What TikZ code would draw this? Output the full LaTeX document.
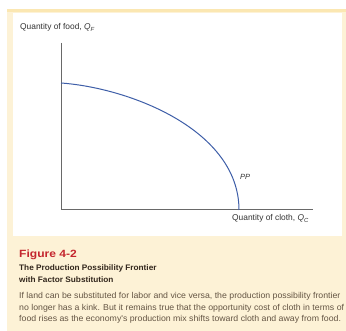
\documentclass[tikz,border=0pt]{standalone}
\usepackage{fontspec}
\setmainfont{Liberation Sans}
\newfontfamily\figfont[FakeStretch=1.15]{Liberation Sans}
\newfontfamily\capfont[FakeStretch=1.03]{Liberation Sans}
\definecolor{boxyellow}{RGB}{253,242,214}
\definecolor{bandyellow}{RGB}{251,231,178}
\definecolor{axisgray}{RGB}{105,105,105}
\definecolor{ppblue}{RGB}{62,94,168}
\definecolor{figred}{RGB}{196,38,46}
\definecolor{titlebrown}{RGB}{50,38,28}
\definecolor{capbrown}{RGB}{100,85,68}
\begin{document}
\begin{tikzpicture}[x=1pt,y=-1pt,
    axislabel/.style={anchor=base west, inner sep=0pt, text=black!80, font=\fontsize{8.4}{9}\selectfont},
    capline/.style={anchor=base west, inner sep=0pt, text=capbrown, font=\capfont\fontsize{8.5}{10}\selectfont}]
    \useasboundingbox (0,0) rectangle (346,331);
    % box behind the figure
    \fill[boxyellow] (7,9) rectangle (346,331);
    \fill[bandyellow] (7,9) rectangle (346,12);
    \fill[white] (13,13) rectangle (342,236);
    % axes
    \coordinate (O) at (61,210);
    \coordinate (ytop) at (61,43);
    \coordinate (xend) at (313,210);
    \draw[axisgray, line width=1pt] (ytop) -- (O) -- (xend);
    % frontier
    \coordinate (start) at (61,83);
    \coordinate (end) at (239,210);
    \draw[ppblue, line width=1pt] (start) .. controls (130,88) and (239,130) .. (end);
    \node[anchor=west, inner sep=0pt, text=black!80, font=\fontsize{7.5}{9}\selectfont\itshape] (pp) at (240,177) {PP};
    \node[axislabel] (food) at (20,30) {Quantity of food, \textit{Q}\textsubscript{\textit{F}}};
    \node[axislabel] (cloth) at (232,221) {Quantity of cloth, \textit{Q}\textsubscript{\textit{C}}};
    % caption
    \node[anchor=base west, inner sep=0pt, text=figred, font=\figfont\fontsize{10.5}{12}\selectfont\bfseries] (fig) at (19,258) {Figure 4-2};
    \node[anchor=base west, inner sep=0pt, text=titlebrown, font=\capfont\fontsize{8}{9}\selectfont\bfseries] (title1) at (19,271) {The Production Possibility Frontier};
    \node[anchor=base west, inner sep=0pt, text=titlebrown, font=\capfont\fontsize{8}{9}\selectfont\bfseries] (title2) at (19,283) {with Factor Substitution};
    \node[capline] (cap1) at (19,299) {If land can be substituted for labor and vice versa, the production possibility frontier};
    \node[capline] (cap2) at (19,310.5) {no longer has a kink. But it remains true that the opportunity cost of cloth in terms of};
    \node[capline] (cap3) at (19,322) {food rises as the economy's production mix shifts toward cloth and away from food.};
\end{tikzpicture}
\end{document}
